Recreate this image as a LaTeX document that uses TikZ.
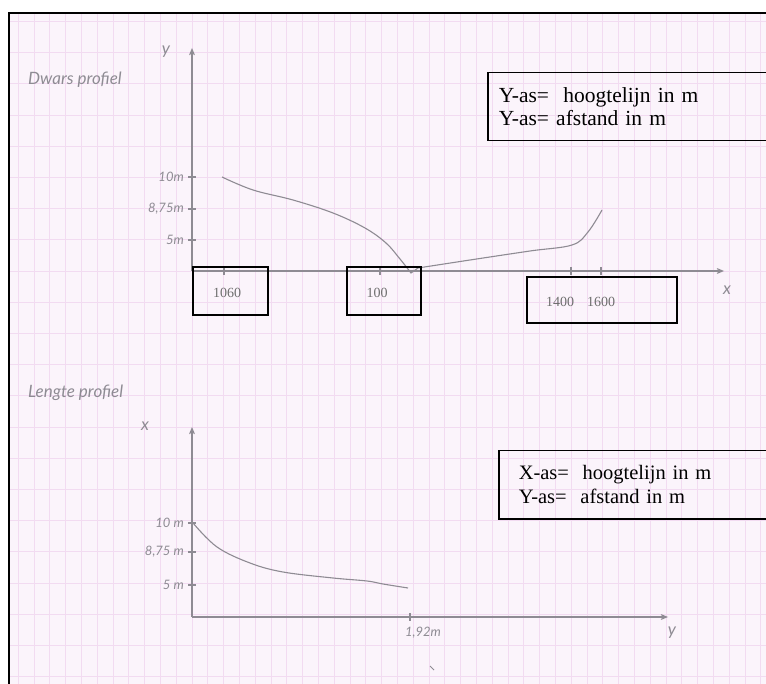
\documentclass[tikz,border=0pt]{standalone}
\usepackage{fontspec}
\setmainfont{Liberation Serif}
\newfontfamily\handfont{Lato}
\usepackage{tikz}
\usetikzlibrary{arrows}
\definecolor{paper}{HTML}{FBF4FB}
\definecolor{gridline}{HTML}{F2DBF1}
\definecolor{pencil}{HTML}{8E8B93}
\definecolor{typed}{HTML}{6E6E6E}

\begin{document}
\begin{tikzpicture}[x=1pt,y=-1pt,>=angle 45,
  pencil line/.style={draw=pencil,line width=1.1pt},
  axis line/.style={pencil line,->},
  hand/.style={text=pencil,font=\handfont\itshape\fontsize{13}{13}\selectfont,inner sep=0pt},
  big hand/.style={hand,font=\handfont\itshape\fontsize{17}{17}\selectfont},
  tick label/.style={hand,anchor=east},
  num box/.style={draw=black,line width=1.5pt,inner sep=0pt},
  num/.style={text=typed,font=\fontsize{14}{14}\selectfont,inner sep=0pt},
  legend box/.style={draw=black,line width=1.5pt,anchor=north west,align=left,
    inner ysep=0pt}]

\useasboundingbox (0,0) rectangle (766,684);
\fill[white] (0,0) rectangle (766,684);
\fill[paper] (9,13) rectangle (766,684);

% ruitjespapier
\foreach \gx in {-11,...,36}{
  \draw[gridline,line width=0.9pt] ({192+\gx*15.8},13) -- ++(0,671);
}
\foreach \gy in {-8,...,13}{
  \draw[gridline,line width=0.9pt] (9,{271+\gy*31.2}) -- ++(757,0);
}
\draw[line width=2pt] (9,684) -- (9,13) -- (766,13);

% dwarsprofiel
\node[big hand,anchor=west] (titel1) at (28,80) {Dwars profiel};
\coordinate (o1) at (192,271);
\coordinate (y1) at (192,48);
\coordinate (x1) at (724,271);
\draw[axis line] (o1) -- (y1);
\draw[axis line] (o1) -- (x1);
\node[big hand] (ylab1) at (166,52) {y};
\node[big hand] (xlab1) at (727,290) {x};

\foreach \yy/\txt in {177/10m,209/{8,75m},240/5m}{
  \draw[pencil line] (188,\yy) -- (196,\yy);
  \node[tick label] at (184,\yy) {\txt};
}
\foreach \xx in {224,380,571,601}{
  \draw[pencil line] (\xx,267) -- (\xx,275);
}

\draw[pencil line] plot[smooth,tension=0.6] coordinates {(222,177) (253,190) (293,200) (333,213) (365,228) (386,243) (400,259) (411,273)}
  -- (418,268) plot[smooth,tension=0.6] coordinates {(418,268) (470,260) (530,251) (572,245) (588,232) (602,210)};

\node[num box,minimum width=75,minimum height=48] (b1060) at (230.5,291) {};
\node[num] (t1060) at (227,293) {1060};
\node[num box,minimum width=74,minimum height=48] (b100) at (384,291) {};
\node[num] (t100) at (377,293) {100};
\node[num box,minimum width=150,minimum height=46] (b1400) at (602,300) {};
\node[num] (t1400) at (560,302) {1400};
\node[num] (t1600) at (601,302) {1600};

\node[legend box,inner xsep=11pt,text width=278,minimum height=68,font=\fontsize{21.5}{23}\selectfont] (leg1) at (487,72)
  {Y-as=\ \ hoogtelijn in m\\Y-as= afstand in m};

% lengteprofiel
\node[big hand,anchor=west] (titel2) at (28,393) {Lengte profiel};
\coordinate (o2) at (192,617);
\coordinate (y2) at (192,427);
\coordinate (x2) at (668,617);
\draw[axis line] (o2) -- (y2);
\draw[axis line] (o2) -- (x2);
\node[big hand] (xlab2) at (145,426) {x};
\node[big hand] (ylab2) at (672,633) {y};

\foreach \yy/\txt in {523/{10 m},552/{8,75 m},585/{5 m}}{
  \draw[pencil line] (188,\yy) -- (196,\yy);
  \node[tick label] at (184,\yy) {\txt};
}
\draw[pencil line] (410,613) -- (410,621);
\node[hand] (lab192) at (423,633) {1,92m};

\draw[pencil line] plot[smooth,tension=0.6] coordinates {(193,523) (217,547) (250,563) (283,572) (333,578) (367,581) (383,584) (408,588)};
\draw[pencil line,line width=0.8pt] (430,666) -- (434,670);

\node[legend box,inner xsep=20pt,text width=250,minimum height=68,font=\fontsize{20.5}{24}\selectfont] (leg2) at (498,450)
  {X-as=\ \ hoogtelijn in m\\Y-as=\ \ afstand in m};
\end{tikzpicture}
\end{document}
